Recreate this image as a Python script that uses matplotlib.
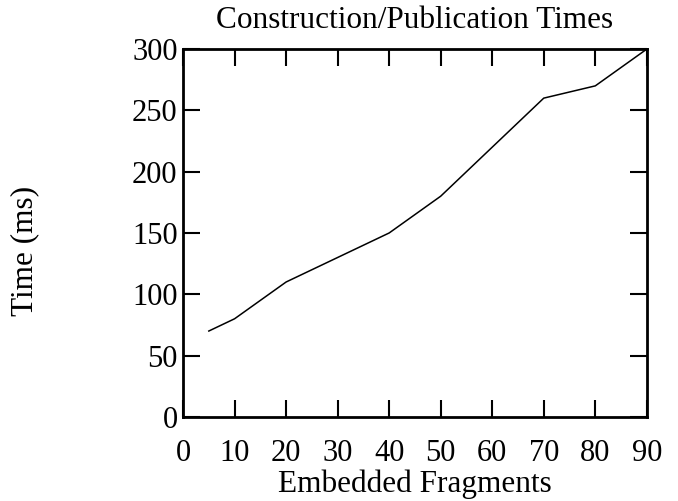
import matplotlib.pyplot as plt

fragments = [5, 10, 20, 30, 40, 50, 60, 70, 80, 90]
times_ms = [70, 80, 110, 130, 150, 180, 220, 260, 270, 300]
x_ticks = [0, 10, 20, 30, 40, 50, 60, 70, 80, 90]
y_ticks = [0, 50, 100, 150, 200, 250, 300]

plt.rcParams['font.family'] = ['Liberation Serif', 'DejaVu Serif']

fig = plt.figure(figsize=(6.78, 5.01), dpi=100)
ax = fig.add_axes([0.270, 0.168, 0.684, 0.734])

ax.plot(fragments, times_ms, color='black', linewidth=1.1)

ax.set_xlim(0, 90)
ax.set_ylim(0, 300)
ax.set_xticks(x_ticks)
ax.set_yticks(y_ticks)
ax.tick_params(direction='in', length=12, width=1.5, labelsize=22,
               top=True, right=True)
ax.tick_params(axis='x', pad=16)
ax.tick_params(axis='y', pad=4)
for s in ax.spines.values():
    s.set_linewidth(2)

ax.set_title('Construction/Publication Times', fontsize=22.5, pad=15)
ax.set_xlabel('Embedded Fragments', fontsize=22.5, labelpad=1)
ax.set_ylabel('Time (ms)', fontsize=22.5)
ax.yaxis.set_label_coords(-0.31, 0.45)

fig.savefig('out.png', dpi=100)
